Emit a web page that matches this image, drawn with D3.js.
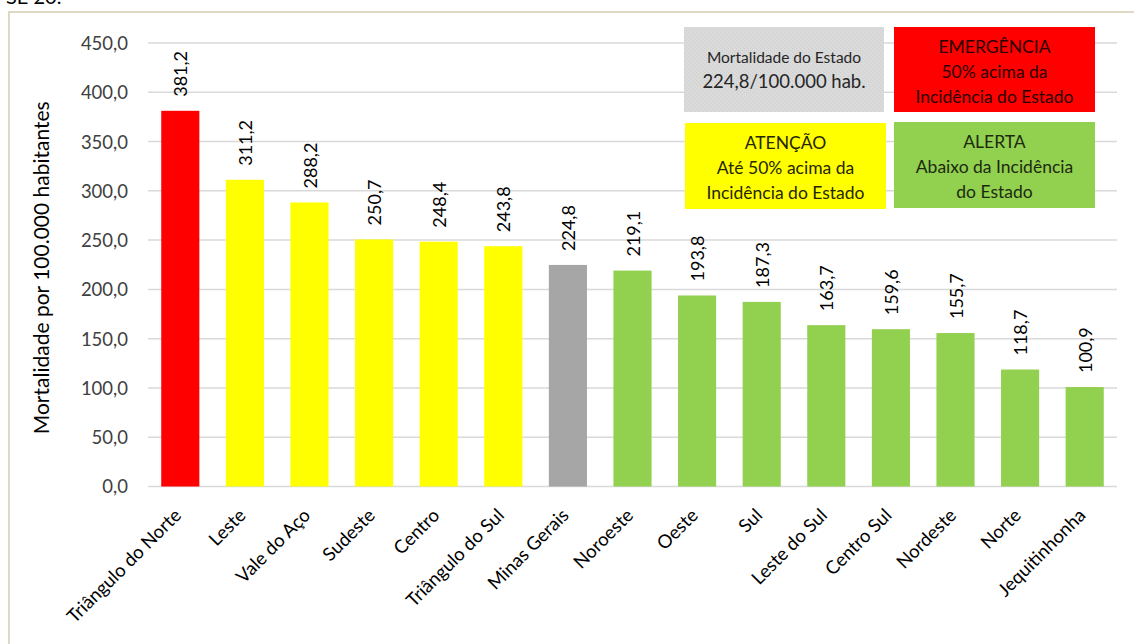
<!DOCTYPE html>
<html>
<head>
<meta charset="utf-8">
<script src="https://cdn.jsdelivr.net/npm/d3@7"></script>
<style>
  html, body { margin: 0; padding: 0; background: #ffffff; }
  svg { display: block; }
  text { font-family: Lato, "Open Sans", sans-serif; }
</style>
</head>
<body>
<svg id="chart" width="1134" height="644"></svg>
<script>
// Mortality per 100,000 inhabitants by region (Minas Gerais)
const regions = ["Triângulo do Norte", "Leste", "Vale do Aço", "Sudeste", "Centro",
  "Triângulo do Sul", "Minas Gerais", "Noroeste", "Oeste", "Sul", "Leste do Sul",
  "Centro Sul", "Nordeste", "Norte", "Jequitinhonha"];
const mortality = [381.2, 311.2, 288.2, 250.7, 248.4, 243.8, 224.8, 219.1, 193.8,
  187.3, 163.7, 159.6, 155.7, 118.7, 100.9];
const levels = ["emergencia", "atencao", "atencao", "atencao", "atencao", "atencao",
  "estado", "alerta", "alerta", "alerta", "alerta", "alerta", "alerta", "alerta", "alerta"];
const yTicks = [0, 50, 100, 150, 200, 250, 300, 350, 400, 450];
const yTitle = "Mortalidade por 100.000 habitantes";

// Legend boxes: level key and the lines of text
const legendKeys = ["estado", "emergencia", "atencao", "alerta"];
const legendLines = [
  ["Mortalidade do Estado", "224,8/100.000 hab."],
  ["EMERGÊNCIA", "50% acima da", "Incidência do Estado"],
  ["ATENÇÃO", "Até 50% acima da", "Incidência do Estado"],
  ["ALERTA", "Abaixo da Incidência", "do Estado"]
];

const fillColor = { emergencia: "#FF0000", atencao: "#FFFF00", estado: "#A6A6A6", alerta: "#92D050" };
const boxFill = { estado: "url(#grain)", emergencia: "#FF0000", atencao: "#FFFF00", alerta: "#92D050" };
const boxText = { estado: "#262626", emergencia: "#2a0000", atencao: "#262600", alerta: "#1c2a10" };

const fmt = v => d3.format(".1f")(v).replace(".", ",");

const svg = d3.select("#chart");

// grainy grey fill for the state box
const defs = svg.append("defs");
const pat = defs.append("pattern").attr("id", "grain")
  .attr("width", 4).attr("height", 4).attr("patternUnits", "userSpaceOnUse");
pat.append("rect").attr("width", 4).attr("height", 4).attr("fill", "#dadada");
pat.append("rect").attr("x", 0).attr("y", 0).attr("width", 1).attr("height", 1).attr("fill", "#cdcdcd");
pat.append("rect").attr("x", 2).attr("y", 2).attr("width", 1).attr("height", 1).attr("fill", "#cdcdcd");

// heading cut by the top edge
svg.append("text").attr("x", 6).attr("y", 4)
  .attr("font-size", 20).attr("fill", "#000").text("SE 20.");

// chart frame
svg.append("rect").attr("x", 9).attr("y", 12).attr("width", 1140).attr("height", 650)
  .attr("fill", "none").attr("stroke", "#ddd9c3").attr("stroke-width", 2);

const x = d3.scaleBand().domain(regions).range([148, 1117]).paddingInner(0.41).paddingOuter(0.205);
const y = d3.scaleLinear().domain([0, 450]).range([486.5, 43]);

// gridlines
svg.append("g").selectAll("line").data(yTicks).join("line")
  .attr("x1", 148).attr("x2", 1117)
  .attr("y1", d => y(d)).attr("y2", d => y(d))
  .attr("stroke", "#d9d9d9").attr("stroke-width", 1.5);

// y axis labels
const yAxis = d3.axisLeft(y).tickValues(yTicks).tickFormat(fmt).tickSize(0).tickPadding(0);
const gy = svg.append("g").attr("transform", "translate(128,0)").call(yAxis);
gy.select(".domain").remove();
gy.selectAll("text").attr("font-size", 18.5).attr("fill", "#404040")
  .attr("font-family", "Lato, sans-serif").attr("dy", "0.35em");

// y title
svg.append("text")
  .attr("transform", `translate(49,${(y(0) + y(450)) / 2 + 3}) rotate(-90)`)
  .attr("text-anchor", "middle").attr("font-size", 21).attr("fill", "#000")
  .text(yTitle);

// bars
svg.append("g").selectAll("rect").data(regions).join("rect")
  .attr("x", d => x(d)).attr("width", x.bandwidth())
  .attr("y", (d, i) => y(mortality[i]))
  .attr("height", (d, i) => y(0) - y(mortality[i]))
  .attr("fill", (d, i) => fillColor[levels[i]]);

// value labels
svg.append("g").selectAll("text").data(regions).join("text")
  .attr("transform", (d, i) => `translate(${x(d) + x.bandwidth() / 2 + 7},${y(mortality[i]) - 14}) rotate(-90)`)
  .attr("font-size", 18).attr("fill", "#000")
  .text((d, i) => fmt(mortality[i]));

// category labels
const xAxis = d3.axisBottom(x).tickSize(0).tickPadding(0);
const gx = svg.append("g").attr("transform", `translate(0,${y(0)})`).call(xAxis);
gx.select(".domain").remove();
gx.selectAll("text")
  .attr("font-size", 18.5).attr("fill", "#000").attr("font-family", "Lato, sans-serif")
  .attr("text-anchor", "end").attr("dy", 0).attr("y", 0)
  .attr("transform", "translate(2,30) rotate(-45)");

// legend boxes
const boxes = [
  { x: 684, y: 27, w: 200, h: 85 },
  { x: 894, y: 27, w: 201, h: 85 },
  { x: 685, y: 123, w: 201, h: 86 },
  { x: 894, y: 122, w: 201, h: 86 }
];
legendKeys.forEach((k, i) => {
  const b = boxes[i];
  svg.append("rect").attr("x", b.x).attr("y", b.y).attr("width", b.w).attr("height", b.h)
    .attr("fill", boxFill[k]);
  const lines = legendLines[i];
  const t = svg.append("text").attr("text-anchor", "middle").attr("fill", boxText[k]);
  if (k === "estado") {
    t.append("tspan").attr("x", b.x + b.w / 2).attr("y", 63).attr("font-size", 15.5).text(lines[0]);
    t.append("tspan").attr("x", b.x + b.w / 2).attr("y", 88).attr("font-size", 18.5).text(lines[1]);
  } else {
    lines.forEach((s, j) => {
      t.append("tspan").attr("x", b.x + b.w / 2).attr("y", b.y + 26 + j * 25)
        .attr("font-size", 17.5).text(s);
    });
  }
});
</script>
</body>
</html>
